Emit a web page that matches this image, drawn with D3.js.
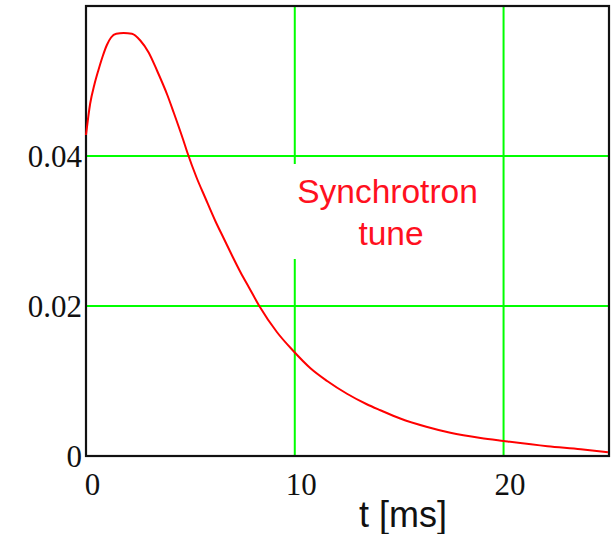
<!DOCTYPE html>
<html>
<head>
<meta charset="utf-8">
<script src="https://cdn.jsdelivr.net/npm/d3@7"></script>
<style>
  html, body { margin: 0; padding: 0; background: #fff; }
  svg { display: block; }
</style>
</head>
<body>
<svg id="chart" width="612" height="534"></svg>
<script>
// ---- data ----
const tValues = [0, 0.2, 0.4, 0.6, 0.8, 1.0, 1.2, 1.45, 1.8, 2.2, 2.6, 3.0, 3.4, 3.9, 4.2, 4.65, 4.85,
  5.3, 5.7, 6.2, 6.6, 7.0, 7.4, 7.8, 8.3, 9.15, 9.9, 10.75, 11.55, 12.5, 13.45, 14.1, 15.05, 16.3, 17.45,
  18.9, 20.0, 22.1, 23.7, 25];
const tuneValues = [0.0428, 0.0470, 0.0495, 0.0515, 0.0533, 0.0548, 0.0558, 0.0563, 0.0564, 0.0563, 0.0554,
  0.0538, 0.0514, 0.0481, 0.0458, 0.0422, 0.0405, 0.0371, 0.0345, 0.0313, 0.0290, 0.0267, 0.0245,
  0.0225, 0.0200, 0.0165, 0.0141, 0.0117, 0.0100, 0.0083, 0.0069, 0.0061, 0.0050, 0.0039, 0.0031, 0.0024,
  0.0020, 0.0013, 0.0009, 0.0005];
const xTicks = [0, 10, 20];
const xTickLabels = ["0", "10", "20"];
const yTicks = [0, 0.02, 0.04];
const yTickLabels = ["0", "0.02", "0.04"];
const xDomain = [0, 25.05];
const yDomain = [0, 0.06];
const xTitle = "t [ms]";
const annotationLines = ["Synchrotron", "tune"];

// ---- layout ----
const svg = d3.select("#chart");
const L = 86, R = 609, T = 6, B = 456;
const x = d3.scaleLinear().domain(xDomain).range([L, R]);
const y = d3.scaleLinear().domain(yDomain).range([B, T]);

const gridColor = "#00ff00";

// grid lines
svg.append("g").selectAll("line").data(xTicks.filter(d => d > 0)).join("line")
  .attr("x1", d => x(d)).attr("x2", d => x(d)).attr("y1", T).attr("y2", B)
  .attr("stroke", gridColor).attr("stroke-width", 2);
svg.append("g").selectAll("line").data(yTicks.filter(d => d > 0)).join("line")
  .attr("x1", L).attr("x2", R).attr("y1", d => y(d)).attr("y2", d => y(d))
  .attr("stroke", gridColor).attr("stroke-width", 2);

// white box behind the annotation (breaks the grid line)
svg.append("rect").attr("x", 291).attr("y", 164).attr("width", 196).attr("height", 95).attr("fill", "#fff");

// frame
svg.append("rect").attr("x", L).attr("y", T).attr("width", R - L).attr("height", B - T)
  .attr("fill", "none").attr("stroke", "#111").attr("stroke-width", 2.2);

// curve
const data = tValues.map((t, i) => [t, tuneValues[i]]);
svg.append("path").datum(data)
  .attr("fill", "none").attr("stroke", "#ff0000").attr("stroke-width", 2)
  .attr("stroke-linejoin", "round")
  .attr("d", d3.line().x(d => x(d[0])).y(d => y(d[1])).curve(d3.curveMonotoneX));

// axes (labels only)
const yAxis = d3.axisLeft(y).tickValues(yTicks).tickSize(0).tickPadding(4)
  .tickFormat((d, i) => yTickLabels[i]);
const gy = svg.append("g").attr("transform", `translate(${L},0)`).call(yAxis);
gy.select(".domain").remove();
gy.selectAll("text").attr("font-family", "'Liberation Serif', 'Times New Roman', serif")
  .attr("font-size", 31).attr("fill", "#111").attr("dy", "0.34em");

const xAxis = d3.axisBottom(x).tickValues(xTicks).tickSize(0).tickPadding(17)
  .tickFormat((d, i) => xTickLabels[i]);
const gx = svg.append("g").attr("transform", `translate(0,${B})`).call(xAxis);
gx.select(".domain").remove();
gx.selectAll("text").attr("font-family", "'Liberation Serif', 'Times New Roman', serif")
  .attr("font-size", 31).attr("fill", "#111").attr("dx", 6);

// x title
svg.append("text").attr("x", 403).attr("y", 527).attr("text-anchor", "middle")
  .attr("font-family", "'Liberation Sans', Arial, sans-serif").attr("font-size", 36)
  .attr("fill", "#111").text(xTitle);

// annotation
const ann = svg.append("text").attr("text-anchor", "middle")
  .attr("font-family", "'Liberation Sans', Arial, sans-serif").attr("font-size", 33.5)
  .attr("fill", "#ff1020");
ann.append("tspan").attr("x", 387.5).attr("y", 203).text(annotationLines[0]);
ann.append("tspan").attr("x", 391).attr("y", 245).text(annotationLines[1]);
</script>
</body>
</html>
